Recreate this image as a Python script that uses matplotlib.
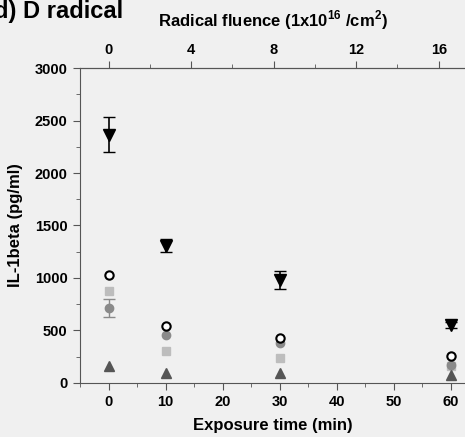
import matplotlib.pyplot as plt
from matplotlib.ticker import MultipleLocator

plt.rcParams['font.family'] = ['Liberation Sans', 'DejaVu Sans']
plt.rcParams['font.weight'] = 'bold'

time = [0, 10, 30, 60]

# black down triangles with error bars
tri_down = [2365, 1308, 981, 552]
tri_down_err = [168, 60, 85, 30]
# open circles
open_circ = [1029, 543, 428, 260]
# grey circles (only the first point has a visible error bar)
grey_circ = [717, 457, 380, 170]
grey_circ_err = [85]
# light grey squares
light_sq = [876, 308, 238, 165]
# dark grey up triangles
tri_up = [162, 95, 95, 76]
tri_up_err = [30, 10, 10, 10]

bg = '#f0f0f0'
fig = plt.figure(figsize=(4.65, 4.37), dpi=100, facecolor=bg)
ax = fig.add_axes([0.172, 0.124, 0.828, 0.72])
ax.set_facecolor(bg)

ax.plot(time, light_sq, 's', color='#bdbdbd', ms=6, zorder=2)
ax.plot(time, grey_circ, 'o', color='#8a8a8a', ms=6, zorder=3)
ax.errorbar(time[:1], grey_circ[:1], yerr=grey_circ_err, fmt='none',
            ecolor='#8a8a8a', capsize=4, elinewidth=1, zorder=3)
ax.errorbar(time, tri_up, yerr=tri_up_err, fmt='^', color='#555555',
            ms=7, capsize=0, elinewidth=1, zorder=3)
ax.plot(time, open_circ, 'o', mfc='white', mec='black', mew=1.5,
        ms=6, zorder=4)
ax.errorbar(time, tri_down, yerr=tri_down_err, fmt='v', color='black',
            ms=8, capsize=4, elinewidth=1.2, zorder=5)

ax.set_xlim(-5, 62.5)
ax.set_ylim(0, 3000)
ax.xaxis.set_major_locator(MultipleLocator(10))
ax.xaxis.set_minor_locator(MultipleLocator(5))
ax.yaxis.set_major_locator(MultipleLocator(500))
ax.yaxis.set_minor_locator(MultipleLocator(250))
ax.spines['right'].set_visible(False)
for s in ['left', 'bottom', 'top']:
    ax.spines[s].set_color('#555555')
ax.tick_params(which='major', direction='out', length=5, color='#555555',
               labelsize=10.5, pad=4)
ax.tick_params(which='minor', direction='out', length=3, color='#555555')
ax.set_xlabel('Exposure time (min)', fontsize=12, fontweight='bold', labelpad=6)
ax.set_ylabel('IL-1beta (pg/ml)', fontsize=12, fontweight='bold', labelpad=8)

k = 57.9 / 16
top = ax.secondary_xaxis('top', functions=(lambda t: t / k, lambda f: f * k))
top.xaxis.set_major_locator(MultipleLocator(4))
top.xaxis.set_minor_locator(MultipleLocator(2))
top.spines['top'].set_color('#555555')
top.tick_params(which='major', direction='out', length=5, color='#555555',
                labelsize=10.5, pad=3)
top.tick_params(which='minor', direction='out', length=3, color='#555555')
top.set_xlabel('Radical fluence (1x10$^{\\mathregular{16}}$ /cm$^{\\mathregular{2}}$)',
               fontsize=12, fontweight='bold', labelpad=12)

fig.text(-0.012, 1.0, 'd) D radical', fontsize=17, fontweight='bold',
         ha='left', va='top')

fig.savefig('out.png', dpi=100, facecolor=bg)
